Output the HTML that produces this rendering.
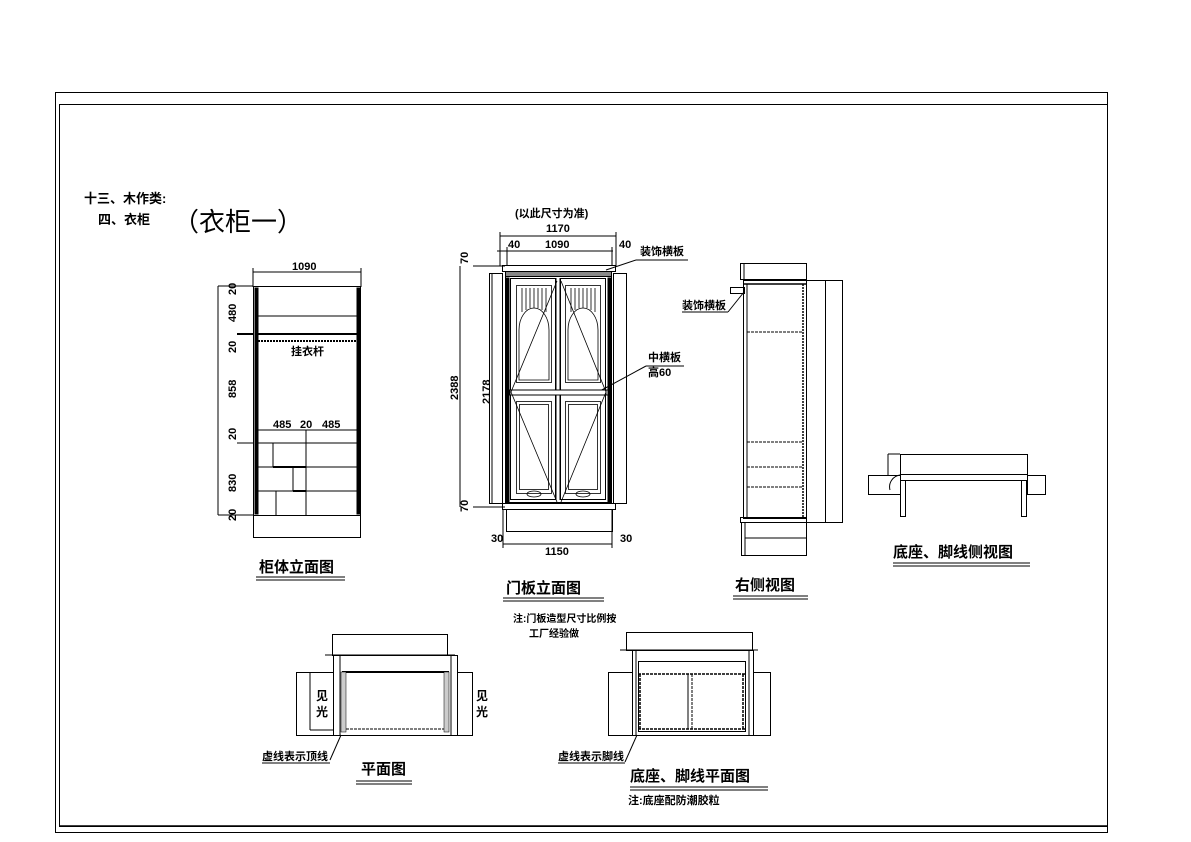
<!DOCTYPE html>
<html><head><meta charset="utf-8"><style>
body{margin:0;background:#fff}
svg{display:block}
text{font-family:"Liberation Sans","Noto Sans CJK SC",sans-serif;fill:#000}
.b{font-weight:bold}
</style></head><body>
<svg width="1191" height="842" viewBox="0 0 1191 842" xmlns="http://www.w3.org/2000/svg" fill="none" stroke="#000" stroke-width="1">
<rect x="55.5" y="92.5" width="1052" height="740"/>
<rect x="59.5" y="104.5" width="1048" height="722"/>
<line x1="59" y1="826" x2="1107" y2="826" stroke-width="1.5"/>

<g stroke="none">
<text x="84" y="203" font-size="13" class="b">十三、木作类:</text>
<text x="98" y="224" font-size="13" class="b">四、衣柜</text>
<text x="173" y="231" font-size="26">（衣柜一）</text>
</g>

<!-- 柜体立面图 -->
<line x1="253" y1="272" x2="361" y2="272"/>
<line x1="253" y1="268" x2="253" y2="287"/><line x1="361" y1="268" x2="361" y2="287"/>
<text x="292" y="270" font-size="11" stroke="none" class="b">1090</text>
<rect x="253.5" y="286.5" width="107" height="229"/>
<rect x="255" y="288" width="3" height="226" fill="#000"/>
<rect x="357" y="288" width="3" height="226" fill="#000"/>
<line x1="258" y1="316" x2="357" y2="316"/>
<line x1="258" y1="334" x2="357" y2="334" stroke-width="2"/>
<line x1="258" y1="341" x2="357" y2="341" stroke-dasharray="2,1" stroke-width="2"/>
<line x1="258" y1="430" x2="357" y2="430"/>
<line x1="258" y1="443" x2="357" y2="443"/>
<line x1="306" y1="430" x2="306" y2="515"/>
<line x1="258" y1="467" x2="357" y2="467"/>
<line x1="258" y1="491" x2="357" y2="491"/>
<line x1="273" y1="443" x2="273" y2="467"/>
<line x1="293" y1="467" x2="293" y2="491"/>
<line x1="276" y1="491" x2="276" y2="515"/>
<line x1="273" y1="467" x2="306" y2="467" stroke-width="2"/>
<line x1="293" y1="491" x2="306" y2="491" stroke-width="2"/>
<rect x="253.5" y="515.5" width="107" height="22"/>
<line x1="218" y1="286" x2="218" y2="515"/>
<line x1="218" y1="286" x2="253" y2="286"/><line x1="218" y1="515" x2="253" y2="515"/>
<line x1="237" y1="334" x2="253" y2="334" stroke-width="2"/>
<line x1="237" y1="443" x2="253" y2="443"/>
<g stroke="none" font-size="11" class="b">
<text x="291" y="355">挂衣杆</text>
<text x="273" y="428">485</text><text x="300" y="428">20</text><text x="322" y="428">485</text>
<g transform="rotate(-90)">
<text x="-295" y="236">20</text><text x="-322" y="236">480</text><text x="-353" y="236">20</text>
<text x="-398" y="236">858</text><text x="-440" y="236">20</text><text x="-492" y="236">830</text><text x="-521" y="236">20</text>
</g>
<text x="259" y="572" font-size="15">柜体立面图</text>
</g>
<line x1="256" y1="577" x2="345" y2="577"/><line x1="256" y1="580" x2="345" y2="580"/>

<!-- 门板立面图 -->
<g stroke="none" font-size="11" class="b">
<text x="515" y="217">(以此尺寸为准)</text>
<text x="546" y="232">1170</text>
<text x="508" y="248">40</text><text x="545" y="248">1090</text><text x="619" y="248">40</text>
<text x="640" y="255">装饰横板</text>
<text x="648" y="361">中横板</text>
<text x="648" y="376">高60</text>
<text x="491" y="542">30</text><text x="620" y="542">30</text>
<text x="545" y="555">1150</text>
<g transform="rotate(-90)">
<text x="-264" y="468">70</text><text x="-400" y="458">2388</text><text x="-404" y="490">2178</text><text x="-512" y="468">70</text>
</g>
<text x="506" y="593" font-size="15">门板立面图</text>
<text x="513" y="622" font-size="10">注:门板造型尺寸比例按</text>
<text x="529" y="637" font-size="10">工厂经验做</text>
</g>
<line x1="503" y1="598" x2="604" y2="598"/><line x1="503" y1="601" x2="604" y2="601"/>
<line x1="500" y1="236" x2="616" y2="236"/><line x1="500" y1="232" x2="500" y2="266"/><line x1="616" y1="232" x2="616" y2="266"/>
<line x1="497" y1="251" x2="613" y2="251"/><line x1="507" y1="247" x2="507" y2="266"/><line x1="612" y1="247" x2="612" y2="266"/>
<line x1="606" y1="270" x2="636" y2="260"/><line x1="636" y1="260" x2="688" y2="260"/>
<line x1="598" y1="392" x2="646" y2="366"/><line x1="646" y1="366" x2="684" y2="366"/>
<line x1="473" y1="266" x2="505" y2="266"/><line x1="473" y1="507" x2="505" y2="507"/>
<line x1="460" y1="266" x2="460" y2="507"/>
<line x1="492" y1="273" x2="492" y2="503"/>
<rect x="489.5" y="273.5" width="13" height="230"/>
<rect x="613.5" y="273.5" width="13" height="230"/>
<rect x="502.5" y="265.5" width="113" height="6"/>
<rect x="505.5" y="271.5" width="106" height="5" fill="#888"/>
<rect x="505.5" y="276.5" width="106" height="226"/>
<rect x="506" y="278" width="3" height="224" fill="#000"/>
<rect x="608" y="278" width="3" height="224" fill="#000"/>
<rect x="510.5" y="278.5" width="45" height="221"/>
<rect x="560.5" y="278.5" width="45" height="221"/>
<line x1="556" y1="278" x2="556" y2="500"/><line x1="560" y1="278" x2="560" y2="500"/>
<rect x="510" y="390" width="96" height="5" fill="#fff"/>
<line x1="506" y1="390" x2="611" y2="390"/><line x1="506" y1="395" x2="611" y2="395"/>
<g stroke-width="0.8">
<rect x="516.5" y="285.5" width="35" height="97"/>
<rect x="565.5" y="285.5" width="35" height="97"/>
<path d="M519 380 V330 A15 22 0 0 1 549 330 V380 Z"/>
<path d="M568 380 V330 A15 22 0 0 1 598 330 V380 Z"/>
<path d="M522 288V312M526 288V310M530 288V308M534 288V308M538 288V308M542 288V310M546 288V312M571 288V312M575 288V310M579 288V308M583 288V308M587 288V308M591 288V310M595 288V312"/>
<rect x="516.5" y="401.5" width="35" height="92"/>
<rect x="565.5" y="401.5" width="35" height="92"/>
<rect x="519.5" y="404.5" width="29" height="85"/>
<rect x="568.5" y="404.5" width="29" height="85"/>
<ellipse cx="534" cy="494" rx="7" ry="3"/><ellipse cx="583" cy="494" rx="7" ry="3"/>
<path d="M557 281 L511 392 L557 502"/>
<path d="M561 281 L606 392 L561 502"/>
</g>
<rect x="502.5" y="503.5" width="113" height="6"/>
<rect x="506.5" y="509.5" width="106" height="22"/>
<line x1="503" y1="544" x2="612" y2="544"/><line x1="503" y1="509" x2="503" y2="548"/><line x1="612" y1="509" x2="612" y2="548"/>

<!-- 右侧视图 -->
<rect x="740.5" y="263.5" width="66" height="16"/>
<line x1="744" y1="263" x2="744" y2="280"/>
<rect x="743.5" y="280.5" width="63" height="238"/>
<line x1="747" y1="284" x2="747" y2="517"/>
<line x1="803" y1="284" x2="803" y2="517" stroke-dasharray="2,1" stroke-width="1.5"/>
<line x1="743" y1="284" x2="806" y2="284" stroke-width="1.5"/>
<rect x="806.5" y="280.5" width="19" height="242"/>
<rect x="825.5" y="280.5" width="17" height="242"/>
<g stroke-dasharray="3,1">
<line x1="747" y1="332" x2="803" y2="332"/><line x1="747" y1="442" x2="803" y2="442"/>
<line x1="747" y1="467" x2="803" y2="467"/><line x1="747" y1="487" x2="803" y2="487"/>
</g>
<rect x="730.5" y="287.5" width="14" height="6"/>
<line x1="744" y1="292" x2="728" y2="312"/><line x1="682" y1="312" x2="728" y2="312"/>
<rect x="740.5" y="517.5" width="66" height="5"/>
<rect x="741.5" y="522.5" width="65" height="33"/>
<line x1="745" y1="522" x2="745" y2="555"/>
<line x1="745" y1="538" x2="806" y2="538"/>
<g stroke="none" class="b">
<text x="682" y="309" font-size="11">装饰横板</text>
<text x="735" y="590" font-size="15">右侧视图</text>
<text x="893" y="557" font-size="15">底座、脚线侧视图</text>
</g>
<line x1="733" y1="596" x2="808" y2="596"/><line x1="733" y1="599" x2="808" y2="599"/>
<line x1="893" y1="563" x2="1030" y2="563"/><line x1="893" y1="566" x2="1030" y2="566"/>

<!-- 底座侧视图 -->
<rect x="900.5" y="454.5" width="127" height="20"/>
<line x1="888" y1="454" x2="900" y2="454"/><line x1="888" y1="454" x2="888" y2="475"/>
<rect x="900.5" y="474.5" width="127" height="6"/>
<rect x="868.5" y="475.5" width="32" height="19"/>
<rect x="1027.5" y="475.5" width="18" height="19"/>
<path d="M900 475 A12 12 0 0 0 890 490" />
<rect x="900.5" y="480.5" width="5" height="36"/>
<rect x="1021.5" y="480.5" width="5" height="36"/>

<!-- 平面图 -->
<rect x="332.5" y="634.5" width="115" height="21"/>
<line x1="325" y1="655" x2="455" y2="655"/>
<rect x="333.5" y="655.5" width="124" height="80"/>
<line x1="340" y1="655" x2="340" y2="735"/><line x1="451" y1="655" x2="451" y2="735"/>
<line x1="342" y1="672" x2="449" y2="672" stroke-width="2"/>
<rect x="341" y="672" width="5" height="60" fill="#ccc" stroke-width="0.5"/>
<rect x="444" y="672" width="5" height="60" fill="#ccc" stroke-width="0.5"/>
<line x1="346" y1="729" x2="444" y2="729" stroke-dasharray="3,1"/>
<rect x="296.5" y="672.5" width="37" height="63"/>
<line x1="310" y1="672" x2="310" y2="730"/><line x1="310" y1="730" x2="333" y2="730"/>
<rect x="457.5" y="672.5" width="15" height="63"/>
<line x1="341" y1="735" x2="330" y2="760"/>
<g stroke="none" class="b">
<text x="316" y="700" font-size="12">见</text><text x="316" y="716" font-size="12">光</text>
<text x="476" y="700" font-size="12">见</text><text x="476" y="716" font-size="12">光</text>
<text x="262" y="760" font-size="11">虚线表示顶线</text>
<text x="361" y="774" font-size="15">平面图</text>
<text x="558" y="760" font-size="11">虚线表示脚线</text>
<text x="630" y="781" font-size="15">底座、脚线平面图</text>
<text x="628" y="804" font-size="11">注:底座配防潮胶粒</text>
</g>
<line x1="262" y1="763" x2="330" y2="763"/>
<line x1="356" y1="781" x2="412" y2="781"/><line x1="356" y1="784" x2="412" y2="784"/>

<!-- 底座平面图 -->
<rect x="626.5" y="632.5" width="126" height="18"/>
<line x1="620" y1="650" x2="758" y2="650"/>
<rect x="632.5" y="650.5" width="121" height="85"/>
<line x1="636" y1="650" x2="636" y2="735"/><line x1="749" y1="650" x2="749" y2="735"/>
<rect x="638.5" y="661.5" width="107" height="70"/>
<line x1="638" y1="674" x2="745" y2="674" stroke-dasharray="3,1" stroke-width="1.5"/>
<line x1="638" y1="729" x2="745" y2="729" stroke-dasharray="3,1" stroke-width="1.5"/>
<line x1="640" y1="674" x2="640" y2="729" stroke-dasharray="3,1" stroke-width="1.5"/>
<line x1="743" y1="674" x2="743" y2="729" stroke-dasharray="3,1" stroke-width="1.5"/>
<line x1="688" y1="674" x2="688" y2="729"/><line x1="692" y1="674" x2="692" y2="729" stroke-dasharray="3,1"/>
<rect x="608.5" y="672.5" width="24" height="63"/>
<rect x="753.5" y="672.5" width="17" height="63"/>
<line x1="637" y1="735" x2="625" y2="762"/>
<line x1="558" y1="763" x2="625" y2="763"/>
<line x1="630" y1="787" x2="768" y2="787"/><line x1="630" y1="790" x2="768" y2="790"/>
</svg>
</body></html>
